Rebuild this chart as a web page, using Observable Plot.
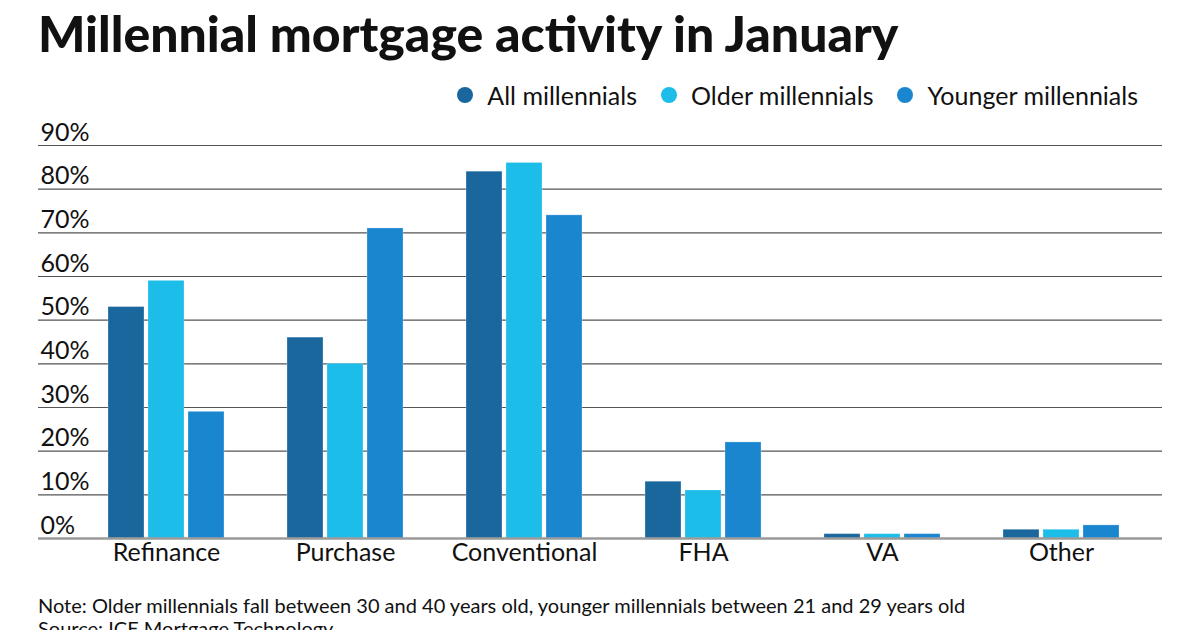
<!DOCTYPE html>
<html>
<head>
<meta charset="utf-8">
<script src="https://cdn.jsdelivr.net/npm/d3@7"></script>
<script src="https://cdn.jsdelivr.net/npm/@observablehq/plot@0.6"></script>
<style>
  html, body { margin: 0; padding: 0; background: #fff; }
  body { width: 1200px; height: 630px; position: relative; overflow: hidden; font-family: Lato, "Noto Sans", sans-serif; color: #111; }
  #title { position: absolute; left: 38px; top: 3px; font-size: 49.9px; font-weight: 900; white-space: nowrap; }
  #legend { position: absolute; right: 62px; top: 80px; font-size: 25px; display: flex; gap: 24px; align-items: center; }
  #legend .item { display: flex; align-items: center; gap: 14px; }
  #legend .dot { width: 16px; height: 16px; border-radius: 50%; display: inline-block; }
  #chart { position: absolute; left: 0; top: 115px; }
  #foot { position: absolute; left: 38px; top: 594px; font-size: 20px; line-height: 23px; white-space: nowrap; }
</style>
</head>
<body>
<div id="title">Millennial mortgage activity in January</div>
<div id="legend"></div>
<div id="chart"></div>
<div id="foot">Note: Older millennials fall between 30 and 40 years old, younger millennials between 21 and 29 years old<br>Source: ICE Mortgage Technology</div>
<script>
const categories = ["Refinance", "Purchase", "Conventional", "FHA", "VA", "Other"];
const seriesNames = ["All millennials", "Older millennials", "Younger millennials"];
const allMillennials = [53, 46, 84, 13, 1, 2];
const olderMillennials = [59, 40, 86, 11, 1, 2];
const youngerMillennials = [29, 71, 74, 22, 1, 3];
const colors = ["#1a679e", "#1dbde9", "#1b86d0"];
const yTicks = [0, 10, 20, 30, 40, 50, 60, 70, 80, 90];

const seriesValues = [allMillennials, olderMillennials, youngerMillennials];
const rows = seriesValues.map((vals, s) => categories.map((c, i) => ({category: c, series: seriesNames[s], value: vals[i]})));

// legend
const legend = document.getElementById("legend");
seriesNames.forEach((n, i) => {
  const it = document.createElement("div");
  it.className = "item";
  it.innerHTML = `<span class="dot" style="background:${colors[i]}"></span><span>${n}</span>`;
  legend.appendChild(it);
});

const barW = 36, gap = 4;
const barMarks = rows.map((data, s) => Plot.barY(data, {
  x: "category",
  y: "value",
  fill: colors[s],
  stroke: "#ffffff",
  strokeOpacity: 0.25,
  insetLeft: s * (barW + gap),
  insetRight: (2 - s) * (barW + gap)
}));

const chart = Plot.plot({
  width: 1200,
  height: 460,
  marginLeft: 38,
  marginRight: 38,
  marginTop: 30,
  marginBottom: 37,
  style: {fontFamily: "Lato, 'Noto Sans', sans-serif", fontSize: "25px", color: "#111", background: "transparent"},
  x: {domain: categories, paddingInner: 0.35, paddingOuter: 0.31, align: 0.62, label: null},
  y: {domain: [0, 90], label: null},
  marks: [
    Plot.ruleY(yTicks.filter(d => d > 0), {stroke: "#555", strokeWidth: 1.2, strokeOpacity: 1}),
    ...barMarks,
    Plot.ruleY([0], {stroke: "#9a9a9a", strokeWidth: 2.5}),
    Plot.axisY({ticks: yTicks, tickSize: 0, tickPadding: 0, textAnchor: "start", dx: 2, dy: -13, tickFormat: d => d + "%", fill: "#111", label: null}),
    Plot.axisX({tickSize: 0, tickPadding: 5, fill: "#111", label: null})
  ]
});
document.getElementById("chart").appendChild(chart);
</script>
</body>
</html>
